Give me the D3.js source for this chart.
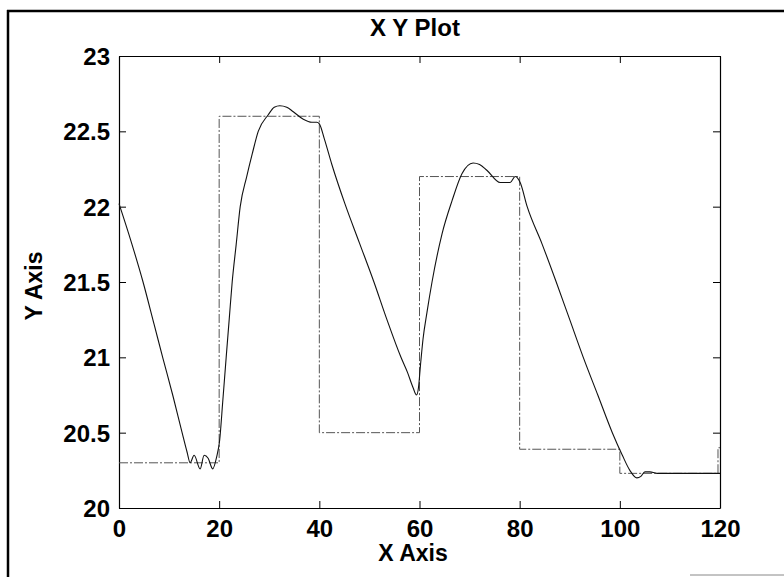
<!DOCTYPE html>
<html lang="en">
<head>
  <meta charset="UTF-8">
  <title>X Y Plot</title>
  <style>
    body { margin: 0; background: #fff; }
    svg text { font-family: "Liberation Sans", Arial, sans-serif; font-weight: bold; fill: #000; }
  </style>
</head>
<body>
  <div id="chart"></div>
  <script src="https://cdnjs.cloudflare.com/ajax/libs/d3/7.8.5/d3.min.js"></script>
  <script>
    // axis ticks
    const xTicks = [0, 20, 40, 60, 80, 100, 120];
    const yTicks = [20, 20.5, 21, 21.5, 22, 22.5, 23];

    // setpoint (step signal)
    const stepX = [0, 20, 40, 60, 80, 100, 119.6, 120];
    const stepY = [20.3, 22.6, 20.5, 22.2, 20.39, 20.23, 20.4, 20.4];

    // measured response
    const respX = [0, 2.5, 4.8, 7, 8.8, 10.8, 12.6, 13.6, 14.2, 15, 16.2, 17, 17.8, 18.7, 19.5,
      20.1, 20.7, 21.4, 22, 22.6, 23.4, 24.2, 25.5, 26.6, 27.8, 29.8, 31, 32.1, 33.5, 34.8, 36.8, 38.5, 39.5, 40,
      41, 42.5, 45.1, 48, 50.9, 53.5, 56.3, 57.6, 58.7, 59.4, 59.8, 60.2, 60.7, 61.5, 62.5, 64.5, 66.5, 68.5, 70.7, 72,
      73.5, 76.1, 78.1, 79.1, 80.1, 81.5, 84.5, 87.3, 90, 92.7, 95.6, 98.5, 100.5, 102, 103.4, 104.2, 105,
      106, 107.4, 120];
    const respY = [22.02, 21.76, 21.5, 21.22, 20.99, 20.74, 20.5, 20.37, 20.3, 20.35, 20.26, 20.35, 20.33, 20.26, 20.34,
      20.45, 20.7, 21.0, 21.25, 21.5, 21.75, 22.0, 22.2, 22.35, 22.5, 22.61, 22.66, 22.67, 22.66, 22.63, 22.58, 22.56, 22.56, 22.55,
      22.45, 22.28, 22.02, 21.76, 21.5, 21.25, 21.0, 20.9, 20.8, 20.75, 20.8, 20.95, 21.12, 21.3, 21.5, 21.82, 22.04, 22.22, 22.29, 22.28,
      22.24, 22.16, 22.16, 22.2, 22.16, 22.0, 21.75, 21.5, 21.25, 21.0, 20.75, 20.5, 20.35, 20.25, 20.2, 20.21, 20.24,
      20.24, 20.23, 20.23];

    const width = 784, height = 577;
    const plotL = 119, plotR = 720, plotT = 56, plotB = 508;

    const svg = d3.select('#chart').append('svg')
      .attr('width', width)
      .attr('height', height);

    svg.append('rect').attr('width', width).attr('height', height).attr('fill', '#fff');

    // outer frame of the figure
    svg.append('line').attr('x1', 8).attr('x2', 8).attr('y1', 10).attr('y2', height)
      .attr('stroke', '#000').attr('stroke-width', 2.5);
    svg.append('line').attr('x1', 7).attr('x2', width).attr('y1', 11).attr('y2', 11)
      .attr('stroke', '#000').attr('stroke-width', 2.5);
    svg.append('line').attr('x1', 690).attr('x2', width).attr('y1', 575).attr('y2', 575)
      .attr('stroke', '#888').attr('stroke-width', 1);

    const x = d3.scaleLinear().domain([0, 120]).range([plotL, plotR]);
    const y = d3.scaleLinear().domain([20, 23]).range([plotB, plotT]);

    // axes, ticks pointing inward
    const xBottom = svg.append('g').attr('transform', `translate(0,${plotB})`)
      .call(d3.axisBottom(x).tickValues(xTicks).tickSizeInner(-7).tickSizeOuter(0).tickPadding(12));
    const xTop = svg.append('g').attr('transform', `translate(0,${plotT})`)
      .call(d3.axisTop(x).tickValues(xTicks).tickSizeInner(-7).tickSizeOuter(0).tickFormat(''));
    const yLeft = svg.append('g').attr('transform', `translate(${plotL},0)`)
      .call(d3.axisLeft(y).tickValues(yTicks).tickSizeInner(-7).tickSizeOuter(0).tickPadding(9).tickFormat(d3.format('')));
    const yRight = svg.append('g').attr('transform', `translate(${plotR},0)`)
      .call(d3.axisRight(y).tickValues(yTicks).tickSizeInner(-7).tickSizeOuter(0).tickFormat(''));

    [xBottom, xTop, yLeft, yRight].forEach(g => {
      g.selectAll('path').attr('stroke', '#000').attr('stroke-width', 1.2);
      g.selectAll('line').attr('stroke', '#000').attr('stroke-width', 1);
    });
    xBottom.selectAll('text').style('font-size', '24px').style('font-family', '"Liberation Sans", Arial, sans-serif')
      .style('font-weight', 'bold').attr('fill', '#000');
    yLeft.selectAll('text').style('font-size', '24px').style('font-family', '"Liberation Sans", Arial, sans-serif')
      .style('font-weight', 'bold').attr('fill', '#000').attr('dy', '0.36em');

    // step signal
    const stepData = stepX.map((d, i) => [d, stepY[i]]);
    svg.append('path')
      .datum(stepData)
      .attr('fill', 'none')
      .attr('stroke', '#555')
      .attr('stroke-width', 1)
      .attr('stroke-dasharray', '9,2,2,2')
      .attr('d', d3.line().x(d => x(d[0])).y(d => y(d[1])).curve(d3.curveStepAfter));

    // response curve
    const respData = respX.map((d, i) => [d, respY[i]]);
    svg.append('path')
      .datum(respData)
      .attr('fill', 'none')
      .attr('stroke', '#111')
      .attr('stroke-width', 1.1)
      .attr('d', d3.line().x(d => x(d[0])).y(d => y(d[1])).curve(d3.curveMonotoneX));

    // titles
    svg.append('text').attr('x', 415).attr('y', 36).attr('text-anchor', 'middle')
      .style('font-size', '24px').text('X Y Plot');
    svg.append('text').attr('x', 413).attr('y', 561).attr('text-anchor', 'middle')
      .style('font-size', '23px').text('X Axis');
    svg.append('text').attr('transform', 'translate(42,286) rotate(-90)').attr('text-anchor', 'middle')
      .style('font-size', '23px').text('Y Axis');
  </script>
</body>
</html>
